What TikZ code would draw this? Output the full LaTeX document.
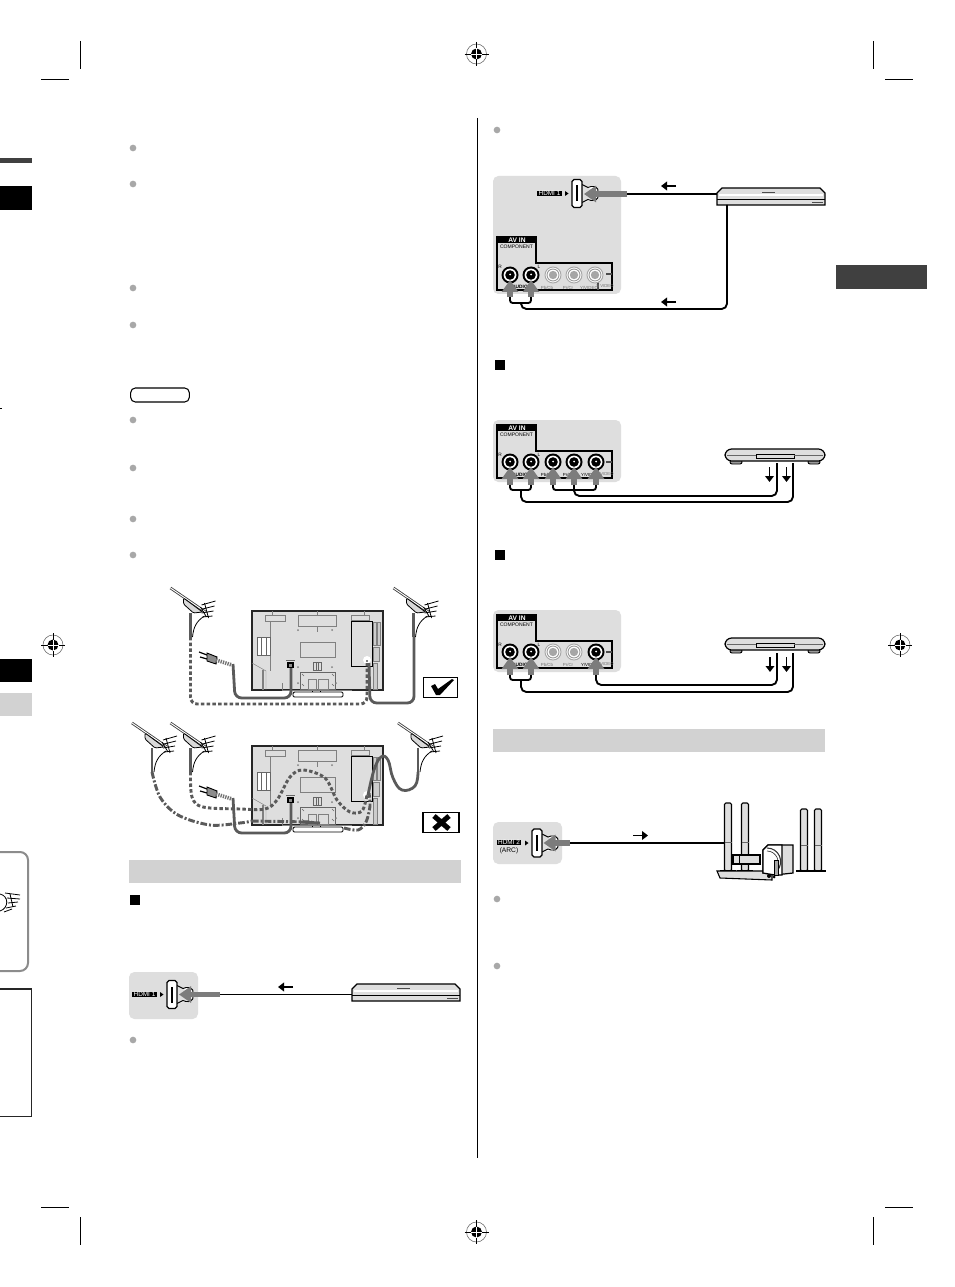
\documentclass[tikz,border=0pt]{standalone}
\usepackage{fontspec}
\setmainfont{Liberation Sans}
\usetikzlibrary{arrows.meta}
\definecolor{panelc}{HTML}{DEDEDE}
\definecolor{barc}{HTML}{D2D2D2}
\definecolor{darkc}{HTML}{404040}
\definecolor{cablec}{HTML}{5A5A5A}
\definecolor{arrowc}{HTML}{7C7C7C}
\definecolor{dotc}{HTML}{A8A8A8}
\tikzset{
  crop/.style={line width=0.75pt,black},
  cable/.style={line width=1.4pt,black,rounded corners=4pt},
  bigarrow/.style={line width=4.2pt,arrowc,-{Triangle[length=9pt,width=12pt]}},
  smallarrow/.style={line width=1.3pt,black,-{Triangle[length=4.5pt,width=6.5pt]}},
  bullet/.style={circle,fill=dotc,minimum size=5pt,inner sep=0pt},
  sq/.style={fill=black,minimum size=7.4pt,inner sep=0pt},
  graybar/.style={fill=barc,draw=none},
  solidcable/.style={line width=2.1pt,cablec,rounded corners=5pt},
  smoothsolid/.style={line width=2.1pt,cablec},
  dashcable/.style={line width=2.2pt,cablec,dash pattern=on 2.6pt off 1.7pt,rounded corners=5pt},
  smoothdash/.style={line width=2.2pt,cablec,dash pattern=on 2.6pt off 1.7pt},
  dashdot/.style={line width=2.2pt,cablec,dash pattern=on 5pt off 1.5pt on 1.5pt off 1.5pt},
  tvline/.style={line width=0.35pt,black!50},
  pics/regmark/.style={code={
    \draw[line width=0.4pt,black!60] (0,0) circle[radius=10];
    \fill[black] (0,0) circle[radius=5.5];
    \draw[line width=0.6pt,black] (-12,0)--(12,0) (0,-12)--(0,12);
    \draw[line width=0.5pt,white] (-5.5,0)--(5.5,0) (0,-5.5)--(0,5.5);
  }},
  pics/antenna/.style={code={
    \draw[line width=2pt,black!75] (-20,-25)--(15,-1);
    \draw[line width=0.7pt,white] (-20,-25)--(15,-1);
    \draw[line width=0.6pt,black,rounded corners=1pt,fill=black!15] (-7,-15)--(-7,-9)--(3,0)--(12,-1)--cycle;
    \draw[line width=0.6pt,black] (11,-8)--(25,-12) (12,-4)--(24,-7) (11,0)--(23,-2) (14,-10)--(18,5) (10,-6)--(16,4) (12,4)--(22,3);
    \draw[line width=1.7pt,cablec] (0,0)--(0,24);
    \draw[line width=0.6pt,black] (14,3) .. controls (6,8) and (3,14) .. (2,24);
  }},
  pics/plug/.style={code={
    \draw[line width=0.9pt,black] (-34,-13)--(-26,-10) (-33,-8)--(-26,-6);
    \draw[line width=0.7pt,black,fill=black!45] (-26,-12)--(-16,-8)--(-17,-1)--(-26,-4)--cycle;
    \draw[line width=2.8pt,black!55,dash pattern=on 1pt off 0.8pt] (-17,-5)--(-1,0);
  }},
  pics/tvback/.style={code={
    \draw[line width=0.6pt,black,fill=white] (60,79) rectangle (68,82);
    \draw[line width=0.7pt,black,fill=white,rounded corners=1pt] (41,81) rectangle (91,86);
    \draw[line width=0.9pt,black!85,fill=panelc] (0,0) rectangle (131,79);
    \draw[tvline] (13,4) rectangle (33,10) (46,4) rectangle (84,15) (99,4) rectangle (117,9);
    \draw[tvline] (65,0)--(65,4) (65,15)--(65,21) (20,0)--(20,4) (112,0)--(112,4) (18,10)--(18,60);
    \draw[line width=0.7pt,black,fill=panelc] (99,10) rectangle (120,55);
    \draw[tvline,fill=black!20] (121,11) rectangle (124,34) (125,11) rectangle (128,34) (121,36) rectangle (127,50) (121,52) rectangle (125,78);
    \draw[tvline] (48,31) rectangle (83,46);
    \draw[line width=0.5pt,black!60,fill=white] (5,26) rectangle (18,44);
    \draw[line width=0.5pt,black!60] (9,26)--(9,44) (14,26)--(14,44);
    \draw[tvline] (0,52)--(14,60)--(14,79);
    \draw[line width=1.1pt,black!50] (11,59)--(11,79);
    \draw[line width=0.5pt,black!60] (61,51) rectangle (69,59) (64,51)--(64,59) (66,51)--(66,59);
    \draw[line width=0.5pt,black!60] (48,61) rectangle (83,78);
    \draw[tvline] (56,68) rectangle (64,78) (66,68) rectangle (76,78) (30,72)--(30,79)--(100,79);
    \draw[line width=0.5pt,black!60] (50,63)--(52,65) (80,63)--(82,65) (50,73)--(52,75) (80,73)--(82,75);
    \foreach \a/\b in {46/19,80/19,46/56,80/56,46/72,84/72}{\fill[black!50] (\a,\b) circle[radius=1];}
    \fill[black] (35,51) rectangle (42,57);
    \fill[black!45] (37,53) rectangle (40,55.5);
    \draw[line width=0.4pt,black!60] (34,49)--(43,49);
    \fill[white] (115,49) circle[radius=4];
    \fill[black] (115,50) circle[radius=0.9];
  }},
  pics/recorder/.style={code={
    \draw[line width=0.9pt,black,fill=panelc] (0,5)--(5,0)--(103,0)--(108,5)--(108,17)--(0,17)--cycle;
    \draw[line width=0.6pt,black] (0,11)--(108,11);
    \fill[white] (2,6) rectangle (106,8);
    \draw[line width=0.5pt,black!70] (45,4)--(58,4) (95,14)--(106,14);
  }},
  pics/recfront/.style={code={
    \draw[line width=0.7pt,black,fill=black!40,rounded corners=1.5pt] (5,11) rectangle (17,15) (83,11) rectangle (95,15);
    \draw[line width=0.9pt,black,fill=panelc,rounded corners=5pt] (0,0) rectangle (100,12);
    \draw[line width=0.5pt,black] (31,5) rectangle (69,9);
    \draw[line width=0.5pt,black!60] (2,6)--(31,6) (69,6)--(98,6);
  }},
  pics/hdmiport/.style={code={
    \draw[line width=0.7pt,black,fill=white] (5,-9)--(11,-6)--(14,-7) .. controls (22,-8) and (22,-1) .. (20,-1)
      (14,7) .. controls (22,8) and (22,1) .. (20,1) (14,7)--(11,6)--(5,9);
    \draw[line width=0.9pt,black,fill=white] (-3,-14)--(3,-14)--(5,-12)--(5,12)--(3,14)--(-3,14)--(-5,12)--(-5,-12)--cycle;
    \fill[black] (-1.2,-8) rectangle (1.2,8);
    \fill[black] (-12,-2.5)--(-8.5,0)--(-12,2.5)--cycle;
  }},
  pics/avpanel/.style={code={
    \draw[line width=0.8pt,black] (4,-58)--(4,-4)--(119,-4)--(119,-31)--(43,-31)--(43,-58);
    \draw[line width=0.8pt,black!70] (113,-20)--(119,-20) (105,-12)--(105,-4);
    \node[fill=black,text=white,font=\bfseries\fontsize{5pt}{5pt}\selectfont,minimum width=29.5pt,minimum height=5.2pt,inner sep=0pt,anchor=north west] at (4,-58) {AV IN};
    \node[font=\fontsize{3.8pt}{3.8pt}\selectfont,inner sep=0pt] at (23.5,-47) {COMPONENT};
    \node[font=\fontsize{3.6pt}{3.6pt}\selectfont,inner sep=0pt] at (7,-27) {R};
    \node[font=\fontsize{3.6pt}{3.6pt}\selectfont,inner sep=0pt] at (46,-27) {L};
    \node[font=\bfseries\fontsize{3.6pt}{3.6pt}\selectfont,inner sep=0pt] at (27,-7.5) {AUDIO};
    \node[font=\fontsize{3.2pt}{3.2pt}\selectfont,inner sep=0pt,text=black!55] at (112,-7.5) {S VIDEO};
  }},
  pics/jackon/.style={code={
    \node[font=\fontsize{3.3pt}{3.3pt}\selectfont,inner sep=0pt] at (-6,13) {#1};
    \fill[black] (0,0) circle[radius=8.5];
    \fill[white] (0,0) circle[radius=6.4];
    \fill[black] (0,0) circle[radius=4.8];
    \fill[white] (0,-0.5) circle[radius=1];
  }},
  pics/jackoff/.style={code={
    \node[font=\fontsize{3.3pt}{3.3pt}\selectfont,inner sep=0pt,text=black!55] at (-6,13) {#1};
    \draw[line width=0.7pt,black!35,fill=white] (0,0) circle[radius=8];
    \draw[line width=0.7pt,black!40,fill=white] (0,0) circle[radius=6];
    \fill[black!35] (0,0) circle[radius=4.2];
  }},
  pics/speaker/.style={code={
    \draw[line width=0.8pt,black,fill=panelc,rounded corners=1pt] (-3.5,0) rectangle (3.5,#1);
    \draw[line width=0.5pt,black!60] (-3.5,{0.58*#1})--(3.5,{0.58*#1});
    \draw[line width=1pt,black] (-8,#1)--(8,#1);
  }},
}
\begin{document}
\begin{tikzpicture}[x=0.75pt,y=-0.75pt]
\useasboundingbox (0,0) rectangle (954,1287);
\fill[white] (0,0) rectangle (954,1287);
% crop marks
\draw[crop] (80,41)--(80,69) (41,80)--(69,80) (873,41)--(873,69) (885,80)--(913,80);
\draw[crop] (80,1217)--(80,1245) (41,1207)--(69,1207) (873,1217)--(873,1245) (885,1207)--(913,1207);
\pic at (476.5,54) {regmark};
\pic at (476.5,1232) {regmark};
\pic at (53,645) {regmark};
\pic at (900,645) {regmark};
% centre rule
\draw[line width=0.9pt,black] (477.5,118)--(477.5,1158);
% left margin
\fill[darkc] (0,158) rectangle (32,163);
\fill[black] (0,186) rectangle (32,210);
\fill[black] (0,659) rectangle (32,682);
\fill[barc] (0,693) rectangle (32,716);
\draw[line width=0.5pt,black] (0,408)--(2,408);
\draw[line width=1.5pt,black!45,rounded corners=6pt] (-6,852)--(28,852)--(28,971)--(-6,971);
\draw[line width=0.8pt,black!85] (0,989)--(31.5,989)--(31.5,1116.5)--(0,1116.5);
\draw[line width=0.6pt,black] (0,894) .. controls (9,896) and (9,908) .. (0,911)
  (5,893)--(20,895) (7,898)--(20,899) (8,903)--(18,902) (6,908)--(16,906) (4,912)--(12,909)
  (10,894)--(13,907);
% right tab
\fill[darkc] (836,265) rectangle (927,289);
% bullets
\foreach \p [count=\i] in {(133,148),(133,184),(133,288),(133,325),(133,420),(133,468),(133,519),(133,555),(133,1040),(497,130),(497,899),(497,966)}
  {\node[bullet] (dot\i) at \p {};}
% notes tag
\node[draw=black,line width=0.8pt,rounded corners=3.5pt,minimum width=44pt,minimum height=10.5pt,inner sep=0pt] (notes) at (160,395) {};
% heading bars
\fill[barc] (129,860) rectangle (461,883);
\fill[barc] (493,729) rectangle (825,752);
\node[sq] (sqa) at (135,900) {};
\node[sq] (sqb) at (500,365) {};
\node[sq] (sqc) at (500,555) {};
% TV diagram: correct
\pic at (190.5,613) {antenna};
\pic at (413.5,613) {antenna};
\pic at (252,611) {tvback};
\pic at (233,665) {plug};
\coordinate (antA) at (190.5,637);
\coordinate (inA) at (367,663);
\coordinate (antB) at (414,637);
\coordinate (inB) at (369,663);
\coordinate (plugA) at (233,664);
\coordinate (sockA) at (291,668);
\draw[dashcable] (antA)--(190.5,704)--(367,704)--(inA);
\draw[solidcable] (plugA)--(235,698)--(291,698)--(sockA);
\draw[solidcable] (inB)--(370,703)--(414,703)--(antB);
% TV diagram: wrong
\pic at (152,748) {antenna};
\pic at (190.5,748) {antenna};
\pic at (418,748) {antenna};
\pic at (252,746) {tvback};
\pic at (233,799) {plug};
\coordinate (antC) at (152,772);
\coordinate (antD) at (190.5,772);
\coordinate (antE) at (418,772);
\coordinate (inC) at (369,793);
\coordinate (inD) at (367,795);
\coordinate (inE) at (368,795);
\draw[solidcable] (233,798)--(235,833)--(291,833)--(291,803);
\draw[dashdot] plot[smooth,tension=0.55] coordinates {(antC) (160,797) (178,815) (210,825) (240,823) (252,821)};
\draw[dashdot] (252,821)--(312,822);
\draw[line width=2.2pt,cablec] (300,822)--(320,823);
\draw[dashdot] plot[smooth,tension=0.55] coordinates {(344,828) (358,830) (366,822) (370,806) (inC)};
\draw[smoothdash] plot[smooth,tension=0.55] coordinates {(antD) (192,797) (203,807) (240,809) (265,809) (277,800) (290,777) (303,770) (325,778) (337,800) (350,812) (362,811) (inD)};
\draw[smoothsolid] plot[smooth,tension=0.7] coordinates {(antE) (415,786) (402,790) (393,778) (388,760) (381,757) (374,770) (inE)};
% check and cross boxes
\node[draw=black,line width=0.8pt,minimum width=26pt,minimum height=15.5pt,inner sep=0pt] (okbox) at (440.5,687.5) {};
\fill[black] (431,686)--(435,684)--(438,689)--(452,679)--(454,680)--(440,695)--(436,695)--cycle;
\node[draw=black,line width=0.8pt,minimum width=27pt,minimum height=15.5pt,inner sep=0pt] (xbox) at (441,822.5) {};
\draw[line width=3.8pt,black] (434,816)--(449,829) (449,816)--(434,829);
% HDMI panel bottom left
\fill[panelc,rounded corners=4pt] (129,972) rectangle (198,1019);
\pic at (172,994.5) {hdmiport};
\node[fill=black,text=white,font=\fontsize{4.8pt}{4.8pt}\selectfont,minimum width=18.6pt,minimum height=4.2pt,inner sep=0pt] (hdmiA) at (144.5,994.5) {HDMI 1};
\pic at (352,984) {recorder};
\coordinate (tipA) at (179,994.5);
\coordinate (endA) at (220,994.5);
\coordinate (recA) at (352,994.5);
\draw[bigarrow] (endA)--(tipA);
\draw[cable] (endA)--(recA);
\draw[smallarrow] (293,987)--(278,987);
% top right panel
\fill[panelc,rounded corners=4pt] (493,176) rectangle (621,294);
\pic at (493,294) {avpanel};
\pic at (510,275) {jackon};
\pic at (531,275) {jackon};
\pic at (553,275) {jackoff={Pb/Cb}};
\pic at (574,275) {jackoff={Pr/Cr}};
\pic at (595,275) {jackoff={Y/VIDEO}};
\pic at (577,193.5) {hdmiport};
\node[fill=black,text=white,font=\fontsize{4.8pt}{4.8pt}\selectfont,minimum width=18.6pt,minimum height=4.2pt,inner sep=0pt] (hdmiB) at (549.5,193.5) {HDMI 1};
\pic at (717,188) {recorder};
\coordinate (tipB) at (584,194);
\coordinate (endB) at (627,194);
\coordinate (recB) at (717,194);
\draw[bigarrow] (endB)--(tipB);
\draw[cable] (endB)--(recB);
\coordinate (recC) at (727,205);
\coordinate (jkA) at (510,297);
\coordinate (jkB) at (531,297);
\coordinate (midA) at (521,303);
\draw[cable,rounded corners=2pt] (jkA)--(510,303)--(531,303)--(jkB);
\draw[cable] (midA)--(521,309)--(727,309)--(recC);
\draw[bigarrow] (jkA)--(510,280);
\draw[bigarrow] (jkB)--(531,280);
\draw[smallarrow] (676,186)--(661,186);
\draw[smallarrow] (676,302)--(661,302);
% panel 2
\fill[panelc,rounded corners=4pt] (493,420) rectangle (621,482);
\pic at (493,482) {avpanel};
\pic at (510,462) {jackon};
\pic at (531,462) {jackon};
\pic at (553,462) {jackon={Pb/Cb}};
\pic at (574,462) {jackon={Pr/Cr}};
\pic at (596,462) {jackon={Y/VIDEO}};
\pic at (725,449) {recfront};
\coordinate (j2a) at (510,485);
\coordinate (j2b) at (531,485);
\coordinate (j2c) at (553,485);
\coordinate (j2d) at (574,485);
\coordinate (j2e) at (596,485);
\coordinate (rec2a) at (777,463);
\coordinate (rec2b) at (793,463);
\draw[cable,rounded corners=2pt] (j2a)--(510,490)--(531,490)--(j2b);
\draw[cable,rounded corners=2pt] (j2c)--(553,490)--(596,490)--(j2e);
\draw[cable] (521,490)--(521,502)--(793,502)--(rec2b);
\draw[cable] (j2d)--(574,496)--(777,496)--(rec2a);
\draw[bigarrow] (j2a)--(510,467);
\draw[bigarrow] (j2b)--(531,467);
\draw[bigarrow] (j2c)--(553,467);
\draw[bigarrow] (j2d)--(574,467);
\draw[bigarrow] (j2e)--(596,467);
\draw[smallarrow] (769.5,467)--(769.5,482);
\draw[smallarrow] (786.5,467)--(786.5,482);
% panel 3
\fill[panelc,rounded corners=4pt] (493,610) rectangle (621,672);
\pic at (493,672) {avpanel};
\pic at (510,652) {jackon};
\pic at (531,652) {jackon};
\pic at (553,652) {jackoff={Pb/Cb}};
\pic at (574,652) {jackoff={Pr/Cr}};
\pic at (596,652) {jackon={Y/VIDEO}};
\pic at (725,638) {recfront};
\coordinate (j3a) at (510,675);
\coordinate (j3b) at (531,675);
\coordinate (j3e) at (596,675);
\coordinate (rec3a) at (777,653);
\coordinate (rec3b) at (793,653);
\draw[cable,rounded corners=2pt] (j3a)--(510,680)--(531,680)--(j3b);
\draw[cable] (521,680)--(521,692)--(793,692)--(rec3b);
\draw[cable] (j3e)--(596,685)--(777,685)--(rec3a);
\draw[bigarrow] (j3a)--(510,657);
\draw[bigarrow] (j3b)--(531,657);
\draw[bigarrow] (j3e)--(596,657);
\draw[smallarrow] (770,657)--(770,672);
\draw[smallarrow] (786.5,657)--(786.5,672);
% HDMI 2 panel and speakers
\fill[panelc,rounded corners=4pt] (493,822) rectangle (562,864);
\pic at (537,843) {hdmiport};
\node[fill=black,text=white,font=\fontsize{4.8pt}{4.8pt}\selectfont,minimum width=18.2pt,minimum height=4.2pt,inner sep=0pt] (hdmiC) at (509,842.5) {HDMI 2};
\node[font=\fontsize{5pt}{5pt}\selectfont,inner sep=0pt] (arc) at (509,851) {(ARC)};
\coordinate (tipC) at (543.5,843);
\coordinate (endC) at (570,843);
\coordinate (spkC) at (724,843);
\draw[bigarrow] (endC)--(tipC);
\draw[cable] (endC)--(spkC);
\draw[smallarrow] (633,835.5)--(648,835.5);
\pic at (728,803) {speaker=68};
\pic at (745,803) {speaker=68};
\pic at (804,809) {speaker=62};
\pic at (818,809) {speaker=62};
\draw[line width=0.8pt,black,fill=panelc] (717,871)--(720,878)--(772,880)--(772,871)--cycle;
\draw[line width=0.8pt,black,fill=panelc] (733,855) rectangle (760,864);
\draw[line width=0.6pt,black] (739,855)--(739,864);
\draw[line width=0.9pt,black,fill=panelc] (763,850)--(768,845)--(793,845)--(793,873)--(775,875)--(763,873)--cycle;
\draw[line width=0.9pt,black,fill=white] (763,850)--(768,845)--(782,845)--(782,875)--(775,875)--(763,873)--cycle;
\draw[line width=0.8pt,black!80] (767,848) .. controls (779,848) and (785,862) .. (777,871);
\draw[line width=0.5pt,black!80] (767,851) .. controls (776,851) and (782,862) .. (775,869);
\draw[line width=0.6pt,black,fill=black!35] (774,860) rectangle (778,875);
\fill[black] (769,876) circle[radius=2] (774,877) circle[radius=1.5];
\end{tikzpicture}
\end{document}
